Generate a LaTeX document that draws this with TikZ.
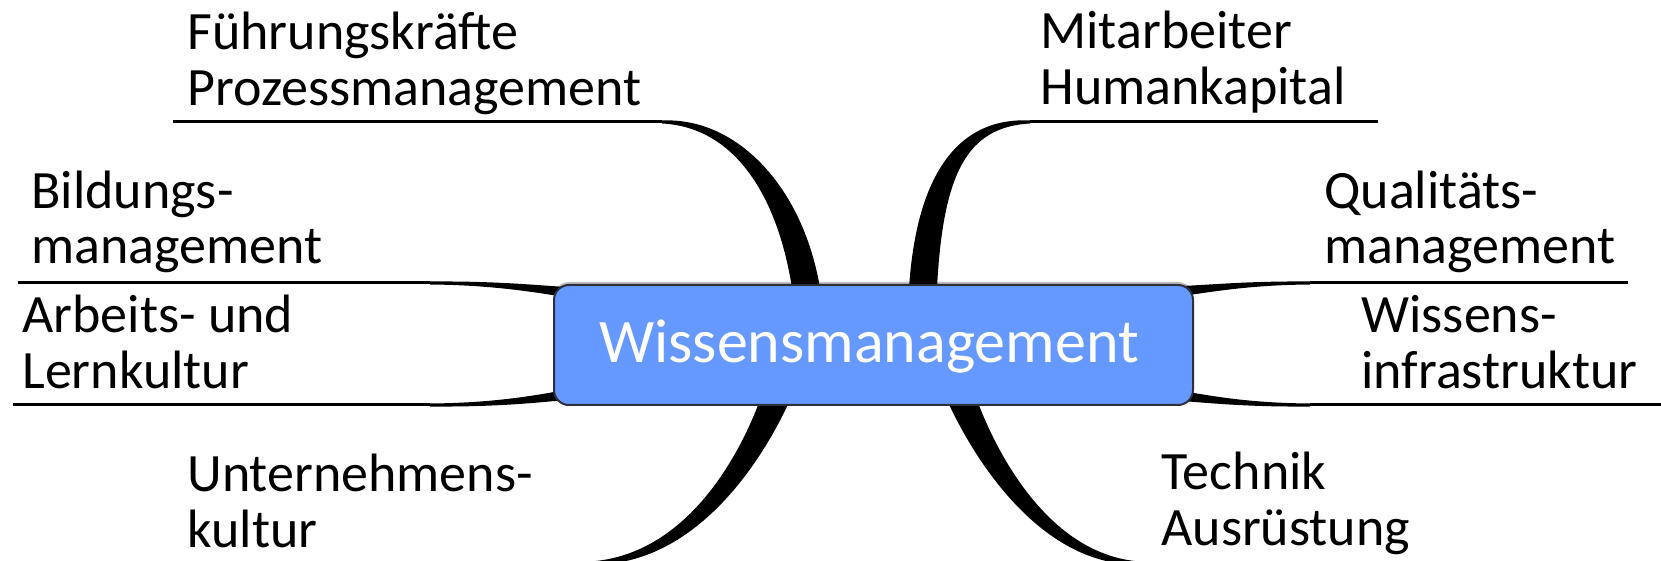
\documentclass[tikz,border=0pt]{standalone}
\usepackage{fontspec}
\setmainfont{Carlito}
\usetikzlibrary{calc}
\definecolor{boxblue}{RGB}{102,153,255}
\definecolor{boxedge}{RGB}{45,48,60}
\definecolor{shadowgray}{RGB}{190,190,190}
\newcommand\taper[8]{\fill[black] ($#1+#5$) .. controls ($#2+#6$) and ($#3+#7$) .. ($#4+#8$) -- ($#4-#8$) .. controls ($#3-#7$) and ($#2-#6$) .. ($#1-#5$) -- cycle;}
\begin{document}
\begin{tikzpicture}[x=0.5pt,y=-0.5pt,
  branchtext/.style={anchor=base west, align=left, inner sep=0pt, font=\fontsize{27pt}{28pt}\selectfont},
  uline/.style={line width=1.5pt},
  wmbox/.style={draw=boxedge, line width=1pt, fill=boxblue, rounded corners=7.5pt, minimum width=319.5pt, minimum height=60pt, inner sep=0pt},
  wmtext/.style={anchor=base, inner sep=0pt, text=white, font=\fontsize{31pt}{32pt}\selectfont}]
\useasboundingbox (0,0) rectangle (1661,561);
\clip (0,0) rectangle (1661,561);
% shadow line above box
\fill[shadowgray, rounded corners=7.5pt] (554,282) rectangle (1193,300);
% coordinates
\coordinate (u1a) at (173,122); \coordinate (u1b) at (662,122); \coordinate (e1) at (806,288);
\coordinate (u5a) at (1030,122); \coordinate (u5b) at (1378,122); \coordinate (e5) at (923,288);
\coordinate (u2a) at (18,283); \coordinate (u2b) at (430,283); \coordinate (e2) at (565,292);
\coordinate (u3a) at (13,405); \coordinate (u3b) at (430,405); \coordinate (e3) at (565,395);
\coordinate (u6a) at (1628,283); \coordinate (u6b) at (1310,283); \coordinate (e6) at (1182,291);
\coordinate (u7a) at (1670,405); \coordinate (u7b) at (1310,405); \coordinate (e7) at (1182,396);
\coordinate (s4) at (775,400); \coordinate (e4) at (590,563);
\coordinate (s8) at (962,400); \coordinate (e8) at (1140,563);
% branches
\draw[uline] (u1a) -- (u1b);
\taper{(u1b)}{(735,122)}{(790,190)}{(e1)}{(0,-1.5)}{(2,-5)}{(13,-3)}{(14,0)}
\draw[uline] (u5a) -- (u5b);
\taper{(u5a)}{(965,122)}{(930,170)}{(e5)}{(0,-1.5)}{(-2,-5)}{(-13,-3)}{(-14,0)}
\draw[uline] (u2a) -- (u2b);
\taper{(u2b)}{(490,283)}{(530,288)}{(e2)}{(0,1.5)}{(0,2)}{(0,3.5)}{(0,5)}
\draw[uline] (u3a) -- (u3b);
\taper{(u3b)}{(490,405)}{(530,400)}{(e3)}{(0,1.5)}{(0,2)}{(0,3.5)}{(0,5)}
\draw[uline] (u6a) -- (u6b);
\taper{(u6b)}{(1250,283)}{(1215,288)}{(e6)}{(0,1.5)}{(0,2)}{(0,3.5)}{(0,5)}
\draw[uline] (u7a) -- (u7b);
\taper{(u7b)}{(1250,405)}{(1215,400)}{(e7)}{(0,1.5)}{(0,2)}{(0,3.5)}{(0,5)}
\taper{(s4)}{(750,460)}{(690,561)}{(e4)}{(15,0)}{(10,6)}{(2.5,6)}{(0,1.5)}
\taper{(s8)}{(987,460)}{(1047,561)}{(e8)}{(-15,0)}{(-10,6)}{(-2.5,6)}{(0,1.5)}
% central box
\node[wmbox] (wm) at (873.5,345) {};
\node[wmtext] (wmt) at (869,363) {Wissensmanagement};
% labels (anchored at the baseline of the last line)
\node[branchtext] (l1) at (187,106) {Führungskräfte\\Prozessmanagement};
\node[branchtext] (l5) at (1040,105) {Mitarbeiter\\Humankapital};
\node[branchtext] (l2) at (31,264) {Bildungs-\\management};
\node[branchtext] (l6) at (1324,264) {Qualitäts-\\management};
\node[branchtext] (l3) at (22,388) {Arbeits- und\\Lernkultur};
\node[branchtext] (l7) at (1361,388) {Wissens-\\infrastruktur};
\node[branchtext] (l4) at (187,547) {Unternehmens-\\kultur};
\node[branchtext] (l8) at (1161,545) {Technik\\Ausrüstung};
\end{tikzpicture}
\end{document}
